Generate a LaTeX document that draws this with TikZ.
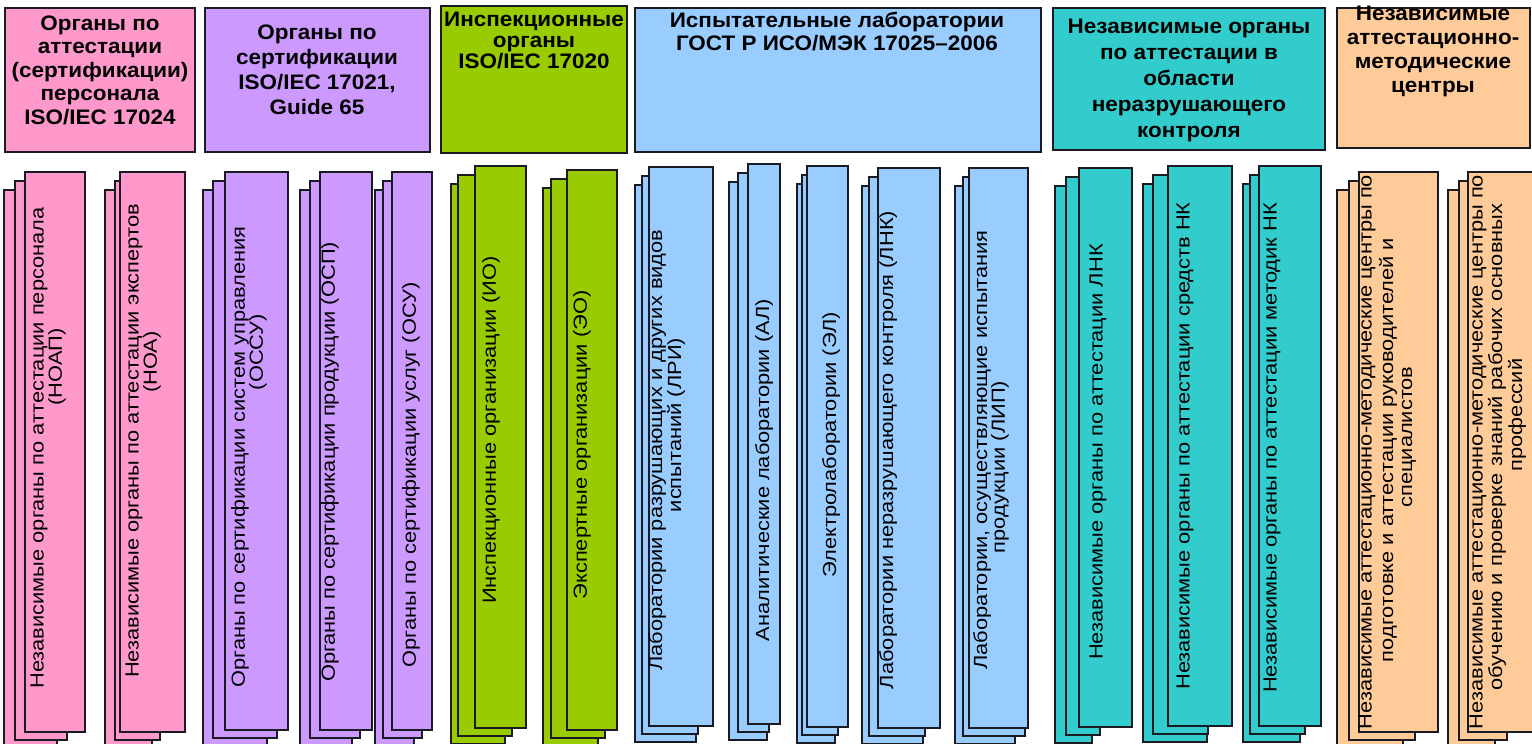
\documentclass[tikz,border=0pt]{standalone}
\usepackage{fontspec}
\setmainfont{Liberation Sans}
\newfontfamily\hdfont[FakeStretch=1.07]{Liberation Sans}
\newfontfamily\cardfont[FakeStretch=1.15]{Liberation Sans}
\definecolor{cpink}{HTML}{FF99CC}
\definecolor{cpurple}{HTML}{CC99FF}
\definecolor{cgreen}{HTML}{99CC00}
\definecolor{cblue}{HTML}{99CCFF}
\definecolor{cteal}{HTML}{33CCCC}
\definecolor{corange}{HTML}{FFCC99}
\definecolor{cline}{HTML}{1A1A22}
\newcommand\hfont[1]{\hdfont\bfseries\fontsize{21}{#1}\selectfont}
% colour, back-left, mid-left, front-left, front-right, mid-right, back-right, front-top, front-bottom
\newcommand\cardstack[9]{%
  \filldraw[card, fill=#1] (#2,#8+18) rectangle (#7,#9+16);
  \filldraw[card, fill=#1] (#3,#8+9) rectangle (#6,#9+8);
  \filldraw[card, fill=#1] (#4,#8) rectangle (#5,#9);
}
\tikzset{
  hbox/.style={draw=cline, line width=1.5pt, inner sep=0pt},
  htext/.style={align=center, inner sep=0pt, text=black},
  card/.style={draw=cline, line width=1.8pt},
  ctext/.style={font=\cardfont\fontsize{19}{19}\selectfont, rotate=90, inner sep=0pt, anchor=center, text=black},
}
\begin{document}
\begin{tikzpicture}[x=1pt,y=-1pt]
\useasboundingbox (0,0) rectangle (1532,744);
\clip (0,0) rectangle (1532,744);

% ---------- headers ----------
\node[hbox, fill=cpink, minimum width=190pt, minimum height=144pt] (hpink) at (100,80) {};
\node[hbox, fill=cpurple, minimum width=225pt, minimum height=144pt] (hpurple) at (317.5,80) {};
\node[hbox, fill=cgreen, minimum width=186pt, minimum height=147pt] (hgreen) at (534,79.5) {};
\node[hbox, fill=cblue, minimum width=406pt, minimum height=144pt] (hblue) at (838,80) {};
\node[hbox, fill=cteal, minimum width=272pt, minimum height=142pt] (hteal) at (1189,79) {};
\node[hbox, fill=corange, minimum width=193pt, minimum height=140pt] (horange) at (1433.5,78) {};

\node[htext, font=\hfont{23.5}] (tpink) at (100,70) {Органы по\\аттестации\\(сертификации)\\персонала\\ISO/IEC 17024};
\node[htext, font=\hfont{25}] (tpurple) at (317,70) {Органы по\\сертификации\\ISO/IEC 17021,\\Guide 65};
\node[htext, font=\hfont{21}] (tgreen) at (534,40) {Инспекционные\\органы\\ISO/IEC 17020};
\node[htext, font=\hfont{23}] (tblue) at (837,32) {Испытательные лаборатории\\ГОСТ Р ИСО/МЭК 17025–2006};
\node[htext, font=\hfont{26}] (tteal) at (1189,80) {Независимые органы\\по аттестации в\\области\\неразрушающего\\контроля};
\node[htext, font=\hfont{24}] (torange) at (1433,51) {Независимые\\аттестационно-\\методические\\центры};

% ---------- card stacks ----------
\cardstack{cpink}{4}{15}{25}{85}{67}{57}{172}{732}
\cardstack{cpink}{105}{115}{120}{185}{160}{152}{172}{732}
\cardstack{cpurple}{203}{213}{225}{288}{277}{267}{172}{730}
\cardstack{cpurple}{300}{310}{320}{372}{360}{352}{172}{730}
\cardstack{cpurple}{375}{383}{392}{432}{422}{414}{172}{730}
\cardstack{cgreen}{451}{458}{475}{526}{512}{505}{166}{728}
\cardstack{cgreen}{543}{551}{567}{617}{605}{598}{170}{730}
\cardstack{cblue}{635}{642}{649}{713}{698}{696}{167}{726}
\cardstack{cblue}{729}{738}{748}{780}{769}{767}{164}{724}
\cardstack{cblue}{797}{802}{807}{848}{838}{835}{166}{727}
\cardstack{cblue}{862}{869}{878}{940}{925}{923}{168}{728}
\cardstack{cblue}{955}{963}{969}{1028}{1025}{1015}{168}{728}
\cardstack{cteal}{1055}{1066}{1079}{1132}{1100}{1092}{168}{727}
\cardstack{cteal}{1143}{1153}{1168}{1232}{1208}{1207}{166}{726}
\cardstack{cteal}{1243}{1250}{1259}{1321}{1305}{1300}{166}{726}
\cardstack{corange}{1337}{1349}{1359}{1438}{1415}{1403}{172}{732}
\cardstack{corange}{1448}{1459}{1468}{1545}{1507}{1495}{172}{732}

% ---------- card texts ----------
\node[ctext] (p1a) at (39,448) {Независимые органы по аттестации персонала};
\node[ctext] (p1b) at (57,367) {(НОАП)};
\node[ctext] (p2a) at (134,441) {Независимые органы по аттестации экспертов};
\node[ctext] (p2b) at (152,362) {(НОА)};
\node[ctext] (u1a) at (240,457) {Органы по сертификации систем управления};
\node[ctext] (u1b) at (258,352) {(ОССУ)};
\node[ctext] (u2a) at (330,462) {Органы по сертификации продукции (ОСП)};
\node[ctext] (u3a) at (411,475) {Органы по сертификации услуг (ОСУ)};
\node[ctext] (g1a) at (491,430) {Инспекционные организации (ИО)};
\node[ctext] (g2a) at (582,445) {Экспертные организации (ЭО)};
\node[ctext] (b1a) at (657,450) {Лаборатории разрушающих и других видов};
\node[ctext] (b1b) at (676,425) {испытаний (ЛРИ)};
\node[ctext] (b2a) at (764,470) {Аналитические лаборатории (АЛ)};
\node[ctext] (b3a) at (831,445) {Электролаборатории (ЭЛ)};
\node[ctext] (b4a) at (888,450) {Лаборатории неразрушающего контроля (ЛНК)};
\node[ctext] (b5a) at (982,450) {Лаборатории, осуществляющие испытания};
\node[ctext] (b5b) at (1000,467) {продукции (ЛИП)};
\node[ctext] (t1a) at (1098,452) {Независимые органы по аттестации ЛНК};
\node[ctext] (t2a) at (1185,446) {Независимые органы по аттестации средств НК};
\node[ctext] (t3a) at (1272,448) {Независимые органы по аттестации методик НК};
\node[ctext] (o1a) at (1367,452) {Независимые аттестационно-методические центры по};
\node[ctext] (o1b) at (1388,450) {подготовке и аттестации руководителей и};
\node[ctext] (o1c) at (1409,437) {специалистов};
\node[ctext] (o2a) at (1478,452) {Независимые аттестационно-методические центры по};
\node[ctext] (o2b) at (1497,447) {обучению и проверке знаний рабочих основных};
\node[ctext] (o2c) at (1517,415) {профессий};
\end{tikzpicture}
\end{document}
